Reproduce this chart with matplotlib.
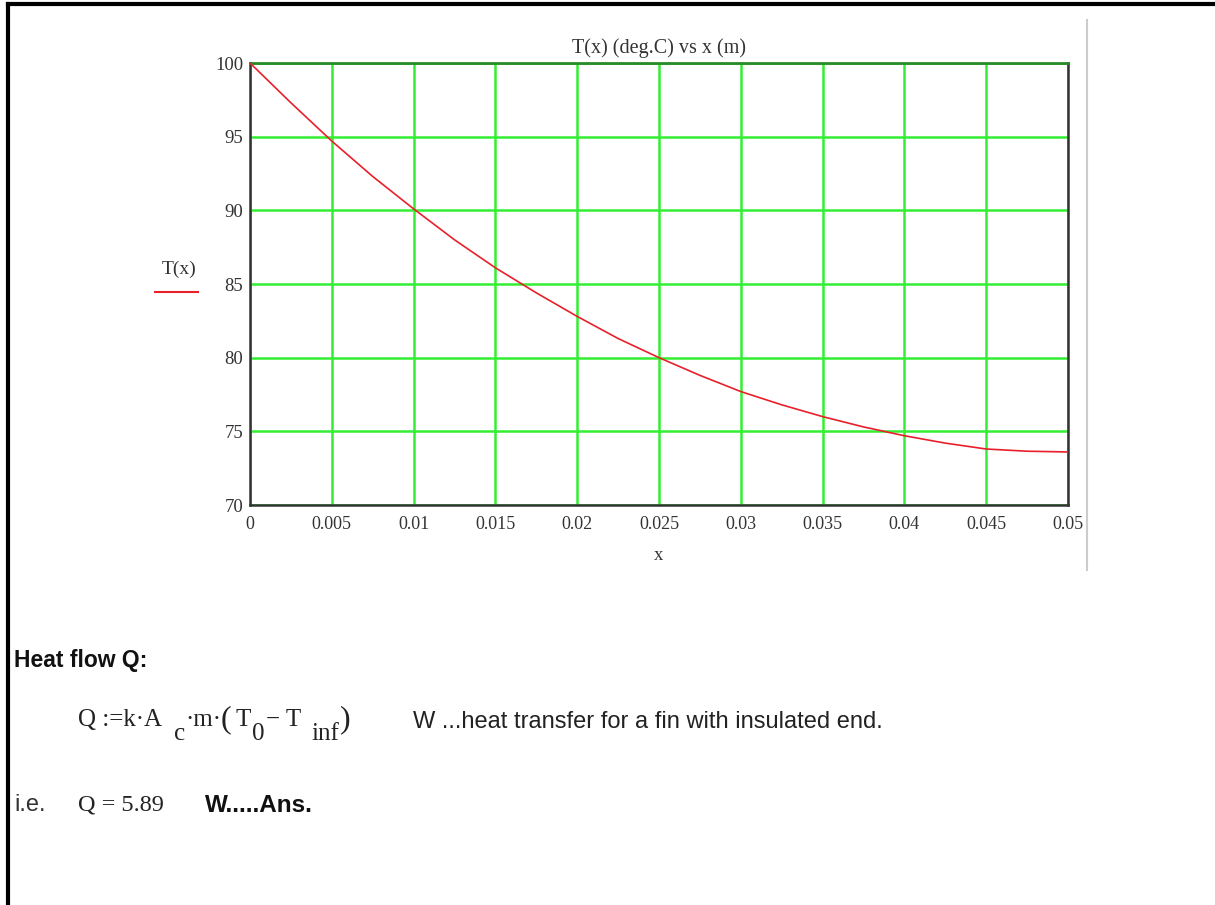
import matplotlib
matplotlib.use("Agg")
import matplotlib.pyplot as plt
from matplotlib.lines import Line2D

# temperature along the fin
x_vals = [0.0, 0.0025, 0.005, 0.0075, 0.01, 0.0125, 0.015, 0.0175, 0.02, 0.0225,
          0.025, 0.0275, 0.03, 0.0325, 0.035, 0.0375, 0.04, 0.0425, 0.045, 0.0475, 0.05]
T_vals = [100.0, 97.3, 94.7, 92.3, 90.1, 88.0, 86.1, 84.4, 82.8, 81.3,
          80.0, 78.8, 77.7, 76.8, 76.0, 75.3, 74.7, 74.2, 73.8, 73.65, 73.6]
x_ticks = [0, 0.005, 0.01, 0.015, 0.02, 0.025, 0.03, 0.035, 0.04, 0.045, 0.05]
x_tick_labels = ["0", "0.005", "0.01", "0.015", "0.02", "0.025", "0.03", "0.035", "0.04", "0.045", "0.05"]
y_ticks = [70, 75, 80, 85, 90, 95, 100]

# formula pieces: (text, x pixel, lowered?)
formula_parts = [("Q :=k·A", 78, False), ("c", 174, True), ("·m·", 185, False),
                 ("(", 221, False), ("T", 236, False), ("0", 252, True),
                 ("− T", 266, False), ("inf", 311, True), (")", 340, False)]

SERIF = "Liberation Serif"
SANS = "Liberation Sans"
INK = "#222222"

fig = plt.figure(figsize=(12.15, 9.05), dpi=100)
W, H = 1215, 905


def fx(px):
    return px / W


def fy(py):
    return 1 - py / H


ax = fig.add_axes([fx(250), fy(505), fx(1068) - fx(250), fy(63) - fy(505)])
ax.plot(x_vals, T_vals, color="#e8202a", lw=1.2, zorder=3)
ax.set_xlim(0, 0.05)
ax.set_ylim(70, 100)
ax.set_xticks(x_ticks)
ax.set_xticklabels(x_tick_labels)
ax.set_yticks(y_ticks)
ax.grid(True, color="#33ee33", lw=1.8, zorder=1)
ax.set_axisbelow(True)
ax.tick_params(axis="x", length=0, labelsize=13, labelcolor="#333333", pad=8)
ax.tick_params(axis="y", length=0, labelsize=13.5, labelcolor="#333333", pad=5)
for lab in ax.get_xticklabels() + ax.get_yticklabels():
    lab.set_fontfamily(SERIF)
for side in ["left", "bottom", "right"]:
    ax.spines[side].set_color("#333333")
    ax.spines[side].set_linewidth(1.8)
ax.spines["top"].set_color("#2a8a2a")
ax.spines["top"].set_linewidth(2)
ax.set_title("T(x) (deg.C) vs x (m)", fontfamily=SERIF, fontsize=14.5, color="#333333", pad=7)
ax.set_xlabel("x", fontfamily=SERIF, fontsize=13.5, color="#333333", labelpad=10)

# legend at the left, as in the worksheet
fig.text(fx(179), fy(269), "T(x)", fontfamily=SERIF, fontsize=14, color="#333333",
         ha="center", va="center")
fig.add_artist(Line2D([fx(155), fx(198)], [fy(292), fy(292)], color="#e8202a", lw=1.5))

# gray separator and page border
fig.add_artist(Line2D([fx(1087), fx(1087)], [fy(20), fy(570)], color="#cccccc", lw=1.5))
fig.add_artist(Line2D([fx(8), fx(8)], [fy(4), 0], color="black", lw=3))
fig.add_artist(Line2D([fx(8), 1], [fy(4), fy(4)], color="black", lw=3))

# worksheet text below the chart
fig.text(fx(14), fy(660), "Heat flow Q:", fontfamily=SANS, fontweight="bold",
         fontsize=16.5, color="#111111", va="center")
for txt, px, low in formula_parts:
    size = 23 if txt in ("(", ")") else 18
    fig.text(fx(px), fy(734 if low else 720), txt, fontfamily=SERIF, fontsize=size,
             color=INK, va="center")
fig.text(fx(413), fy(722), "W ...heat transfer for a fin with insulated end.",
         fontfamily=SANS, fontsize=17, color=INK, va="center")
fig.text(fx(14), fy(805), "i.e.", fontfamily=SANS, fontsize=17, color="#333333", va="center")
fig.text(fx(78), fy(805), "Q = 5.89", fontfamily=SERIF, fontsize=17.5, color=INK, va="center")
fig.text(fx(205), fy(805), "W.....Ans.", fontfamily=SANS, fontweight="bold",
         fontsize=17.5, color="#111111", va="center")

fig.savefig("out.png", dpi=100, facecolor="white")
